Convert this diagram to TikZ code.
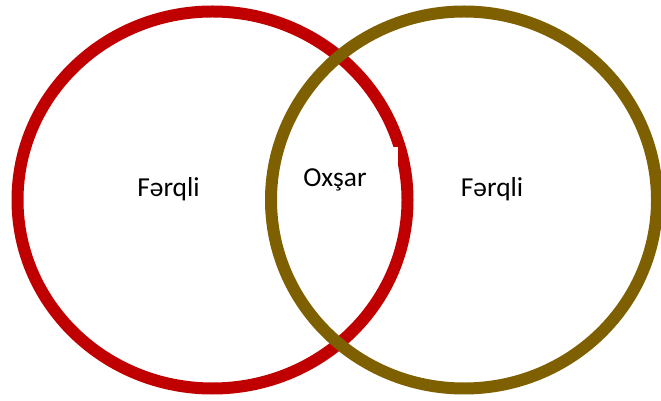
\documentclass[tikz,border=0pt]{standalone}
\usepackage{fontspec}
\setmainfont{Carlito}
\usetikzlibrary{calc}
\definecolor{ringred}{HTML}{C00000}
\definecolor{ringbrown}{HTML}{7F6000}
\begin{document}
\begin{tikzpicture}[x=0.02cm, y=-0.02cm, font=\fontsize{15.6}{18}\selectfont,
		ring/.style={line width=0.24cm},
		lbl/.style={anchor=base, inner sep=0pt}]
		\def\rx{195}  % horizontal radius
		\def\ry{188.5}  % vertical radius
		\useasboundingbox (0,0) rectangle (661,401);
		% centres of the two sets
		\coordinate (A) at (212.5,200);
		\coordinate (B) at (464,200);
		%%% left set
		\draw[ring, ringred] (A) ellipse ({\rx} and {\ry});
		% box of the common part
		\node[fill=white, inner sep=0pt, minimum width=126*0.02cm, minimum height=60*0.02cm, anchor=north east] (box) at (398,147) {};
		%%% right set
		\draw[ring, ringbrown] (B) ellipse ({193} and {\ry});
		% labels
		\node[lbl] (left) at (168.5,197) {Fərqli};
		\node[lbl] (mid) at (335,186.5) {Oxşar};
		\node[lbl] (right) at (492,197) {Fərqli};
	\end{tikzpicture}
\end{document}
